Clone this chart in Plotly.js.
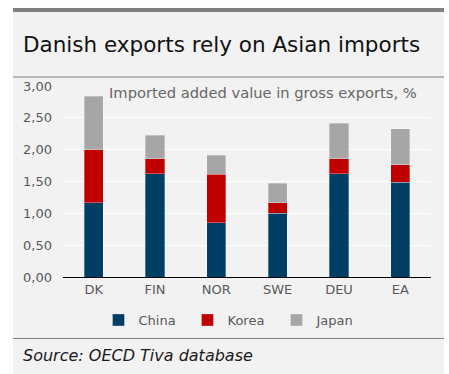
<!DOCTYPE html>
<html><head><meta charset="utf-8">
<script src="https://cdn.plot.ly/plotly-3.0.1.min.js"></script>
<style>html,body{margin:0;padding:0;background:#fff}</style>
</head><body>
<div id="chart" style="width:449px;height:374px"></div>
<script>
const categories = ["DK", "FIN", "NOR", "SWE", "DEU", "EA"];
const china = [1.165, 1.625, 0.855, 1.00, 1.625, 1.485];
const korea = [0.83, 0.235, 0.76, 0.165, 0.235, 0.28];
const japan = [0.845, 0.365, 0.295, 0.305, 0.555, 0.56];
const yTicks = [0, 0.5, 1, 1.5, 2, 2.5, 3];

const W = 449, H = 374;
const px = x => x / W;
const py = y => 1 - y / H;
const font = "'DejaVu Sans', sans-serif";
const lineCol = 'rgba(255,255,255,0.5)';

const traces = [
  {name: 'China', x: categories, y: china, type: 'bar', marker: {color: '#003f63', line: {color: lineCol, width: 0.6}}},
  {name: 'Korea', x: categories, y: korea, type: 'bar', marker: {color: '#c00000', line: {color: lineCol, width: 0.6}}},
  {name: 'Japan', x: categories, y: japan, type: 'bar', marker: {color: '#a6a6a6', line: {color: lineCol, width: 0.6}}}
];

const layout = {
  width: W, height: H,
  margin: {l: 0, r: 0, t: 0, b: 0},
  paper_bgcolor: '#ffffff',
  plot_bgcolor: 'rgba(0,0,0,0)',
  barmode: 'stack',
  bargap: 0.69,
  separators: ',.',
  font: {family: font, color: '#595959', size: 13},
  showlegend: true,
  legend: {orientation: 'h', traceorder: 'normal', x: px(232), xanchor: 'center', y: py(320), yanchor: 'middle',
           font: {size: 13, color: '#595959'}, bgcolor: 'rgba(0,0,0,0)', itemwidth: 30,
           entrywidth: 44, entrywidthmode: 'pixels'},
  xaxis: {domain: [px(63), px(431)], showline: true, linecolor: '#000000', linewidth: 1,
          showgrid: false, ticks: '', tickfont: {size: 13, color: '#595959'}, fixedrange: true},
  yaxis: {domain: [py(277), py(86)], range: [0, 3], tickvals: yTicks, tickformat: '.2f',
          showgrid: true, gridcolor: '#ffffff', gridwidth: 1, zeroline: false, showline: false,
          ticks: '', ticklabelstandoff: 10, tickfont: {size: 13, color: '#595959'}, fixedrange: true},
  shapes: [
    {type: 'rect', xref: 'paper', yref: 'paper', x0: px(13), x1: px(444), y0: py(374), y1: py(12),
     fillcolor: '#f2f2f2', line: {width: 0}, layer: 'below'},
    {type: 'rect', xref: 'paper', yref: 'paper', x0: px(13), x1: px(444), y0: py(12), y1: py(8),
     fillcolor: '#808080', line: {width: 0}, layer: 'below'},
    {type: 'line', xref: 'paper', yref: 'paper', x0: px(13), x1: px(444), y0: py(77), y1: py(77),
     line: {color: '#808080', width: 1}, layer: 'below'},
    {type: 'line', xref: 'paper', yref: 'paper', x0: px(13), x1: px(444), y0: py(338.5), y1: py(338.5),
     line: {color: '#808080', width: 1}, layer: 'below'}
  ],
  annotations: [
    {text: 'Danish exports rely on Asian imports', xref: 'paper', yref: 'paper', x: px(21), y: py(44),
     xanchor: 'left', yanchor: 'middle', showarrow: false, font: {size: 21.5, color: '#111111', family: font}},
    {text: 'Imported added value in gross exports, %', xref: 'paper', yref: 'paper', x: px(263), y: py(92),
     xanchor: 'center', yanchor: 'middle', showarrow: false, font: {size: 14.7, color: '#666666', family: font}},
    {text: '<i>Source: OECD Tiva database</i>', xref: 'paper', yref: 'paper', x: px(21), y: py(355),
     xanchor: 'left', yanchor: 'middle', showarrow: false, font: {size: 16, color: '#1a1a1a', family: font}}
  ]
};

Plotly.newPlot('chart', traces, layout, {displayModeBar: false, staticPlot: true});
</script>
</body></html>
